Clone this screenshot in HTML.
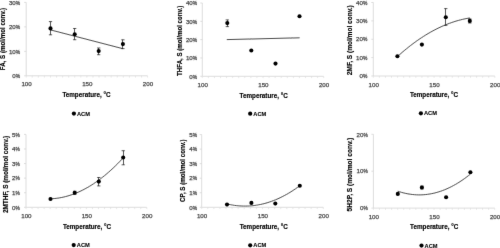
<!DOCTYPE html>
<html><head><meta charset="utf-8"><style>
html,body{margin:0;padding:0;background:#fff;width:500px;height:248px;overflow:hidden}
svg{display:block;will-change:transform}
text{font-family:"Liberation Sans",sans-serif}
.tl{font-size:6.2px;fill:#484848;stroke:#484848;stroke-width:0.25px}
.at{font-size:6.8px;font-weight:bold;fill:#000;stroke:#000;stroke-width:0.15px}
.lg{font-size:6.0px;font-weight:bold;fill:#000;stroke:#000;stroke-width:0.1px}
</style></head><body>
<svg width="500" height="248" viewBox="0 0 500 248">
<defs><filter id="bl" x="-5%" y="-5%" width="110%" height="110%"><feConvolveMatrix order="3" kernelMatrix="0 1 0 1 12 1 0 1 0" edgeMode="none" preserveAlpha="false"/></filter></defs>
<rect width="500" height="248" fill="#fff"/>
<g filter="url(#bl)">
<line x1="26.2" y1="2.4" x2="26.2" y2="75.8" stroke="#d4d4d4" stroke-width="0.8"/>
<line x1="26.2" y1="75.8" x2="147.6" y2="75.8" stroke="#d4d4d4" stroke-width="0.8"/>
<line x1="24.2" y1="75.80" x2="26.2" y2="75.80" stroke="#d4d4d4" stroke-width="0.8"/>
<text x="15.79" y="78.00" class="tl" text-anchor="end">0</text>
<text transform="translate(15.79,78.00) scale(0.8,1)" class="tl">%</text>
<line x1="24.2" y1="51.33" x2="26.2" y2="51.33" stroke="#d4d4d4" stroke-width="0.8"/>
<text x="15.79" y="53.53" class="tl" text-anchor="end">10</text>
<text transform="translate(15.79,53.53) scale(0.8,1)" class="tl">%</text>
<line x1="24.2" y1="26.87" x2="26.2" y2="26.87" stroke="#d4d4d4" stroke-width="0.8"/>
<text x="15.79" y="29.07" class="tl" text-anchor="end">20</text>
<text transform="translate(15.79,29.07) scale(0.8,1)" class="tl">%</text>
<line x1="24.2" y1="2.40" x2="26.2" y2="2.40" stroke="#d4d4d4" stroke-width="0.8"/>
<text x="15.79" y="4.60" class="tl" text-anchor="end">30</text>
<text transform="translate(15.79,4.60) scale(0.8,1)" class="tl">%</text>
<line x1="26.20" y1="75.8" x2="26.20" y2="77.6" stroke="#dcdcdc" stroke-width="0.7"/>
<line x1="32.27" y1="75.8" x2="32.27" y2="77.6" stroke="#dcdcdc" stroke-width="0.7"/>
<line x1="38.34" y1="75.8" x2="38.34" y2="77.6" stroke="#dcdcdc" stroke-width="0.7"/>
<line x1="44.41" y1="75.8" x2="44.41" y2="77.6" stroke="#dcdcdc" stroke-width="0.7"/>
<line x1="50.48" y1="75.8" x2="50.48" y2="77.6" stroke="#dcdcdc" stroke-width="0.7"/>
<line x1="56.55" y1="75.8" x2="56.55" y2="77.6" stroke="#dcdcdc" stroke-width="0.7"/>
<line x1="62.62" y1="75.8" x2="62.62" y2="77.6" stroke="#dcdcdc" stroke-width="0.7"/>
<line x1="68.69" y1="75.8" x2="68.69" y2="77.6" stroke="#dcdcdc" stroke-width="0.7"/>
<line x1="74.76" y1="75.8" x2="74.76" y2="77.6" stroke="#dcdcdc" stroke-width="0.7"/>
<line x1="80.83" y1="75.8" x2="80.83" y2="77.6" stroke="#dcdcdc" stroke-width="0.7"/>
<line x1="86.90" y1="75.8" x2="86.90" y2="77.6" stroke="#dcdcdc" stroke-width="0.7"/>
<line x1="92.97" y1="75.8" x2="92.97" y2="77.6" stroke="#dcdcdc" stroke-width="0.7"/>
<line x1="99.04" y1="75.8" x2="99.04" y2="77.6" stroke="#dcdcdc" stroke-width="0.7"/>
<line x1="105.11" y1="75.8" x2="105.11" y2="77.6" stroke="#dcdcdc" stroke-width="0.7"/>
<line x1="111.18" y1="75.8" x2="111.18" y2="77.6" stroke="#dcdcdc" stroke-width="0.7"/>
<line x1="117.25" y1="75.8" x2="117.25" y2="77.6" stroke="#dcdcdc" stroke-width="0.7"/>
<line x1="123.32" y1="75.8" x2="123.32" y2="77.6" stroke="#dcdcdc" stroke-width="0.7"/>
<line x1="129.39" y1="75.8" x2="129.39" y2="77.6" stroke="#dcdcdc" stroke-width="0.7"/>
<line x1="135.46" y1="75.8" x2="135.46" y2="77.6" stroke="#dcdcdc" stroke-width="0.7"/>
<line x1="141.53" y1="75.8" x2="141.53" y2="77.6" stroke="#dcdcdc" stroke-width="0.7"/>
<line x1="147.60" y1="75.8" x2="147.60" y2="77.6" stroke="#dcdcdc" stroke-width="0.7"/>
<text x="26.60" y="86.35" class="tl" text-anchor="middle">100</text>
<text x="87.30" y="86.35" class="tl" text-anchor="middle">150</text>
<text x="148.00" y="86.35" class="tl" text-anchor="middle">200</text>
<line x1="50.5" y1="29.9" x2="122.9" y2="48.7" stroke="#111" stroke-width="0.75"/>
<line x1="50.5" y1="21.6" x2="50.5" y2="34.8" stroke="#222" stroke-width="0.75"/>
<line x1="48.9" y1="21.6" x2="52.1" y2="21.6" stroke="#222" stroke-width="0.75"/>
<line x1="48.9" y1="34.8" x2="52.1" y2="34.8" stroke="#222" stroke-width="0.75"/>
<circle cx="50.5" cy="28.4" r="2.05" fill="#000"/>
<line x1="74.5" y1="28.5" x2="74.5" y2="39.7" stroke="#222" stroke-width="0.75"/>
<line x1="73.10000000000001" y1="28.5" x2="76.3" y2="28.5" stroke="#222" stroke-width="0.75"/>
<line x1="73.10000000000001" y1="39.7" x2="76.3" y2="39.7" stroke="#222" stroke-width="0.75"/>
<circle cx="74.7" cy="34.2" r="2.05" fill="#000"/>
<line x1="98.5" y1="48.0" x2="98.5" y2="54.7" stroke="#222" stroke-width="0.75"/>
<line x1="97.10000000000001" y1="48.0" x2="100.3" y2="48.0" stroke="#222" stroke-width="0.75"/>
<line x1="97.10000000000001" y1="54.7" x2="100.3" y2="54.7" stroke="#222" stroke-width="0.75"/>
<circle cx="98.7" cy="51.1" r="2.05" fill="#000"/>
<line x1="122.5" y1="39.8" x2="122.5" y2="48.6" stroke="#222" stroke-width="0.75"/>
<line x1="121.30000000000001" y1="39.8" x2="124.5" y2="39.8" stroke="#222" stroke-width="0.75"/>
<line x1="121.30000000000001" y1="48.6" x2="124.5" y2="48.6" stroke="#222" stroke-width="0.75"/>
<circle cx="122.9" cy="44.1" r="2.05" fill="#000"/>
<text transform="translate(4.90,39.05) rotate(-90)" class="at" text-anchor="middle" textLength="62.3" lengthAdjust="spacingAndGlyphs">FA, S (mol/mol conv.)</text>
<text x="86.5" y="97.20" class="at" text-anchor="middle" textLength="48.2" lengthAdjust="spacingAndGlyphs">Temperature, °C</text>
<circle cx="73.9" cy="113.6" r="2.1" fill="#000"/>
<text x="77.00" y="115.60" class="lg" textLength="13.0" lengthAdjust="spacingAndGlyphs">ACM</text>
<line x1="202.3" y1="3.0" x2="202.3" y2="76.3" stroke="#d4d4d4" stroke-width="0.8"/>
<line x1="202.3" y1="76.3" x2="323.7" y2="76.3" stroke="#d4d4d4" stroke-width="0.8"/>
<line x1="200.3" y1="76.30" x2="202.3" y2="76.30" stroke="#d4d4d4" stroke-width="0.8"/>
<text x="192.79" y="78.50" class="tl" text-anchor="end">0</text>
<text transform="translate(192.79,78.50) scale(0.8,1)" class="tl">%</text>
<line x1="200.3" y1="57.97" x2="202.3" y2="57.97" stroke="#d4d4d4" stroke-width="0.8"/>
<text x="192.79" y="60.17" class="tl" text-anchor="end">10</text>
<text transform="translate(192.79,60.17) scale(0.8,1)" class="tl">%</text>
<line x1="200.3" y1="39.65" x2="202.3" y2="39.65" stroke="#d4d4d4" stroke-width="0.8"/>
<text x="192.79" y="41.85" class="tl" text-anchor="end">20</text>
<text transform="translate(192.79,41.85) scale(0.8,1)" class="tl">%</text>
<line x1="200.3" y1="21.33" x2="202.3" y2="21.33" stroke="#d4d4d4" stroke-width="0.8"/>
<text x="192.79" y="23.53" class="tl" text-anchor="end">30</text>
<text transform="translate(192.79,23.53) scale(0.8,1)" class="tl">%</text>
<line x1="200.3" y1="3.00" x2="202.3" y2="3.00" stroke="#d4d4d4" stroke-width="0.8"/>
<text x="192.79" y="5.20" class="tl" text-anchor="end">40</text>
<text transform="translate(192.79,5.20) scale(0.8,1)" class="tl">%</text>
<line x1="202.30" y1="76.3" x2="202.30" y2="78.1" stroke="#dcdcdc" stroke-width="0.7"/>
<line x1="208.37" y1="76.3" x2="208.37" y2="78.1" stroke="#dcdcdc" stroke-width="0.7"/>
<line x1="214.44" y1="76.3" x2="214.44" y2="78.1" stroke="#dcdcdc" stroke-width="0.7"/>
<line x1="220.51" y1="76.3" x2="220.51" y2="78.1" stroke="#dcdcdc" stroke-width="0.7"/>
<line x1="226.58" y1="76.3" x2="226.58" y2="78.1" stroke="#dcdcdc" stroke-width="0.7"/>
<line x1="232.65" y1="76.3" x2="232.65" y2="78.1" stroke="#dcdcdc" stroke-width="0.7"/>
<line x1="238.72" y1="76.3" x2="238.72" y2="78.1" stroke="#dcdcdc" stroke-width="0.7"/>
<line x1="244.79" y1="76.3" x2="244.79" y2="78.1" stroke="#dcdcdc" stroke-width="0.7"/>
<line x1="250.86" y1="76.3" x2="250.86" y2="78.1" stroke="#dcdcdc" stroke-width="0.7"/>
<line x1="256.93" y1="76.3" x2="256.93" y2="78.1" stroke="#dcdcdc" stroke-width="0.7"/>
<line x1="263.00" y1="76.3" x2="263.00" y2="78.1" stroke="#dcdcdc" stroke-width="0.7"/>
<line x1="269.07" y1="76.3" x2="269.07" y2="78.1" stroke="#dcdcdc" stroke-width="0.7"/>
<line x1="275.14" y1="76.3" x2="275.14" y2="78.1" stroke="#dcdcdc" stroke-width="0.7"/>
<line x1="281.21" y1="76.3" x2="281.21" y2="78.1" stroke="#dcdcdc" stroke-width="0.7"/>
<line x1="287.28" y1="76.3" x2="287.28" y2="78.1" stroke="#dcdcdc" stroke-width="0.7"/>
<line x1="293.35" y1="76.3" x2="293.35" y2="78.1" stroke="#dcdcdc" stroke-width="0.7"/>
<line x1="299.42" y1="76.3" x2="299.42" y2="78.1" stroke="#dcdcdc" stroke-width="0.7"/>
<line x1="305.49" y1="76.3" x2="305.49" y2="78.1" stroke="#dcdcdc" stroke-width="0.7"/>
<line x1="311.56" y1="76.3" x2="311.56" y2="78.1" stroke="#dcdcdc" stroke-width="0.7"/>
<line x1="317.63" y1="76.3" x2="317.63" y2="78.1" stroke="#dcdcdc" stroke-width="0.7"/>
<line x1="323.70" y1="76.3" x2="323.70" y2="78.1" stroke="#dcdcdc" stroke-width="0.7"/>
<text x="202.70" y="86.85" class="tl" text-anchor="middle">100</text>
<text x="263.40" y="86.85" class="tl" text-anchor="middle">150</text>
<text x="324.10" y="86.85" class="tl" text-anchor="middle">200</text>
<line x1="226.8" y1="39.6" x2="299.6" y2="37.8" stroke="#111" stroke-width="0.75"/>
<line x1="227.5" y1="19.9" x2="227.5" y2="26.6" stroke="#222" stroke-width="0.75"/>
<line x1="225.70000000000002" y1="19.9" x2="228.9" y2="19.9" stroke="#222" stroke-width="0.75"/>
<line x1="225.70000000000002" y1="26.6" x2="228.9" y2="26.6" stroke="#222" stroke-width="0.75"/>
<circle cx="227.3" cy="23.1" r="2.05" fill="#000"/>
<circle cx="251.3" cy="50.5" r="2.05" fill="#000"/>
<circle cx="275.5" cy="63.6" r="2.05" fill="#000"/>
<circle cx="299.5" cy="16.3" r="2.05" fill="#000"/>
<text transform="translate(182.00,40.85) rotate(-90)" class="at" text-anchor="middle" textLength="70.1" lengthAdjust="spacingAndGlyphs">THFA, S (mol/mol conv.)</text>
<text x="263.7" y="97.50" class="at" text-anchor="middle" textLength="48.2" lengthAdjust="spacingAndGlyphs">Temperature, °C</text>
<circle cx="250.2" cy="113.7" r="2.1" fill="#000"/>
<text x="253.30" y="115.70" class="lg" textLength="13.0" lengthAdjust="spacingAndGlyphs">ACM</text>
<line x1="373.3" y1="2.5" x2="373.3" y2="76.0" stroke="#d4d4d4" stroke-width="0.8"/>
<line x1="373.3" y1="76.0" x2="494.8" y2="76.0" stroke="#d4d4d4" stroke-width="0.8"/>
<line x1="371.3" y1="76.00" x2="373.3" y2="76.00" stroke="#d4d4d4" stroke-width="0.8"/>
<text x="362.89" y="78.20" class="tl" text-anchor="end">0</text>
<text transform="translate(362.89,78.20) scale(0.8,1)" class="tl">%</text>
<line x1="371.3" y1="57.62" x2="373.3" y2="57.62" stroke="#d4d4d4" stroke-width="0.8"/>
<text x="362.89" y="59.83" class="tl" text-anchor="end">10</text>
<text transform="translate(362.89,59.83) scale(0.8,1)" class="tl">%</text>
<line x1="371.3" y1="39.25" x2="373.3" y2="39.25" stroke="#d4d4d4" stroke-width="0.8"/>
<text x="362.89" y="41.45" class="tl" text-anchor="end">20</text>
<text transform="translate(362.89,41.45) scale(0.8,1)" class="tl">%</text>
<line x1="371.3" y1="20.88" x2="373.3" y2="20.88" stroke="#d4d4d4" stroke-width="0.8"/>
<text x="362.89" y="23.07" class="tl" text-anchor="end">30</text>
<text transform="translate(362.89,23.07) scale(0.8,1)" class="tl">%</text>
<line x1="371.3" y1="2.50" x2="373.3" y2="2.50" stroke="#d4d4d4" stroke-width="0.8"/>
<text x="362.89" y="4.70" class="tl" text-anchor="end">40</text>
<text transform="translate(362.89,4.70) scale(0.8,1)" class="tl">%</text>
<line x1="373.30" y1="76.0" x2="373.30" y2="77.8" stroke="#dcdcdc" stroke-width="0.7"/>
<line x1="379.38" y1="76.0" x2="379.38" y2="77.8" stroke="#dcdcdc" stroke-width="0.7"/>
<line x1="385.45" y1="76.0" x2="385.45" y2="77.8" stroke="#dcdcdc" stroke-width="0.7"/>
<line x1="391.53" y1="76.0" x2="391.53" y2="77.8" stroke="#dcdcdc" stroke-width="0.7"/>
<line x1="397.60" y1="76.0" x2="397.60" y2="77.8" stroke="#dcdcdc" stroke-width="0.7"/>
<line x1="403.68" y1="76.0" x2="403.68" y2="77.8" stroke="#dcdcdc" stroke-width="0.7"/>
<line x1="409.75" y1="76.0" x2="409.75" y2="77.8" stroke="#dcdcdc" stroke-width="0.7"/>
<line x1="415.82" y1="76.0" x2="415.82" y2="77.8" stroke="#dcdcdc" stroke-width="0.7"/>
<line x1="421.90" y1="76.0" x2="421.90" y2="77.8" stroke="#dcdcdc" stroke-width="0.7"/>
<line x1="427.98" y1="76.0" x2="427.98" y2="77.8" stroke="#dcdcdc" stroke-width="0.7"/>
<line x1="434.05" y1="76.0" x2="434.05" y2="77.8" stroke="#dcdcdc" stroke-width="0.7"/>
<line x1="440.12" y1="76.0" x2="440.12" y2="77.8" stroke="#dcdcdc" stroke-width="0.7"/>
<line x1="446.20" y1="76.0" x2="446.20" y2="77.8" stroke="#dcdcdc" stroke-width="0.7"/>
<line x1="452.27" y1="76.0" x2="452.27" y2="77.8" stroke="#dcdcdc" stroke-width="0.7"/>
<line x1="458.35" y1="76.0" x2="458.35" y2="77.8" stroke="#dcdcdc" stroke-width="0.7"/>
<line x1="464.43" y1="76.0" x2="464.43" y2="77.8" stroke="#dcdcdc" stroke-width="0.7"/>
<line x1="470.50" y1="76.0" x2="470.50" y2="77.8" stroke="#dcdcdc" stroke-width="0.7"/>
<line x1="476.58" y1="76.0" x2="476.58" y2="77.8" stroke="#dcdcdc" stroke-width="0.7"/>
<line x1="482.65" y1="76.0" x2="482.65" y2="77.8" stroke="#dcdcdc" stroke-width="0.7"/>
<line x1="488.73" y1="76.0" x2="488.73" y2="77.8" stroke="#dcdcdc" stroke-width="0.7"/>
<line x1="494.80" y1="76.0" x2="494.80" y2="77.8" stroke="#dcdcdc" stroke-width="0.7"/>
<text x="373.70" y="86.55" class="tl" text-anchor="middle">100</text>
<text x="434.45" y="86.55" class="tl" text-anchor="middle">150</text>
<text x="495.20" y="86.55" class="tl" text-anchor="middle">200</text>
<path d="M397.40,56.60 L399.26,54.93 L401.11,53.30 L402.97,51.70 L404.83,50.14 L406.68,48.61 L408.54,47.12 L410.39,45.66 L412.25,44.24 L414.11,42.86 L415.96,41.51 L417.82,40.20 L419.68,38.92 L421.53,37.68 L423.39,36.48 L425.25,35.31 L427.10,34.17 L428.96,33.07 L430.82,32.01 L432.67,30.99 L434.53,30.00 L436.38,29.04 L438.24,28.12 L440.10,27.24 L441.95,26.39 L443.81,25.58 L445.67,24.80 L447.52,24.06 L449.38,23.35 L451.24,22.69 L453.09,22.05 L454.95,21.45 L456.81,20.89 L458.66,20.37 L460.52,19.88 L462.37,19.42 L464.23,19.00 L466.09,18.62 L467.94,18.27 L469.80,17.96" fill="none" stroke="#111" stroke-width="0.75"/>
<circle cx="397.4" cy="56.2" r="2.05" fill="#000"/>
<circle cx="421.9" cy="44.6" r="2.05" fill="#000"/>
<line x1="445.5" y1="8.6" x2="445.5" y2="25.4" stroke="#222" stroke-width="0.75"/>
<line x1="444.2" y1="8.6" x2="447.40000000000003" y2="8.6" stroke="#222" stroke-width="0.75"/>
<line x1="444.2" y1="25.4" x2="447.40000000000003" y2="25.4" stroke="#222" stroke-width="0.75"/>
<circle cx="445.8" cy="17.3" r="2.05" fill="#000"/>
<line x1="469.5" y1="18.9" x2="469.5" y2="23.0" stroke="#222" stroke-width="0.75"/>
<line x1="468.2" y1="18.9" x2="471.40000000000003" y2="18.9" stroke="#222" stroke-width="0.75"/>
<line x1="468.2" y1="23.0" x2="471.40000000000003" y2="23.0" stroke="#222" stroke-width="0.75"/>
<circle cx="469.8" cy="20.9" r="2.05" fill="#000"/>
<text transform="translate(351.60,40.20) rotate(-90)" class="at" text-anchor="middle" textLength="70.0" lengthAdjust="spacingAndGlyphs">2MF, S (mol/mol conv.)</text>
<text x="434.0" y="97.20" class="at" text-anchor="middle" textLength="48.2" lengthAdjust="spacingAndGlyphs">Temperature, °C</text>
<circle cx="420.9" cy="113.3" r="2.1" fill="#000"/>
<text x="424.00" y="115.30" class="lg" textLength="13.0" lengthAdjust="spacingAndGlyphs">ACM</text>
<line x1="26.0" y1="134.4" x2="26.0" y2="207.3" stroke="#d4d4d4" stroke-width="0.8"/>
<line x1="26.0" y1="207.3" x2="146.8" y2="207.3" stroke="#d4d4d4" stroke-width="0.8"/>
<line x1="24.0" y1="207.30" x2="26.0" y2="207.30" stroke="#d4d4d4" stroke-width="0.8"/>
<text x="15.49" y="209.50" class="tl" text-anchor="end">0</text>
<text transform="translate(15.49,209.50) scale(0.8,1)" class="tl">%</text>
<line x1="24.0" y1="192.72" x2="26.0" y2="192.72" stroke="#d4d4d4" stroke-width="0.8"/>
<text x="15.49" y="194.92" class="tl" text-anchor="end">1</text>
<text transform="translate(15.49,194.92) scale(0.8,1)" class="tl">%</text>
<line x1="24.0" y1="178.14" x2="26.0" y2="178.14" stroke="#d4d4d4" stroke-width="0.8"/>
<text x="15.49" y="180.34" class="tl" text-anchor="end">2</text>
<text transform="translate(15.49,180.34) scale(0.8,1)" class="tl">%</text>
<line x1="24.0" y1="163.56" x2="26.0" y2="163.56" stroke="#d4d4d4" stroke-width="0.8"/>
<text x="15.49" y="165.76" class="tl" text-anchor="end">3</text>
<text transform="translate(15.49,165.76) scale(0.8,1)" class="tl">%</text>
<line x1="24.0" y1="148.98" x2="26.0" y2="148.98" stroke="#d4d4d4" stroke-width="0.8"/>
<text x="15.49" y="151.18" class="tl" text-anchor="end">4</text>
<text transform="translate(15.49,151.18) scale(0.8,1)" class="tl">%</text>
<line x1="24.0" y1="134.40" x2="26.0" y2="134.40" stroke="#d4d4d4" stroke-width="0.8"/>
<text x="15.49" y="136.60" class="tl" text-anchor="end">5</text>
<text transform="translate(15.49,136.60) scale(0.8,1)" class="tl">%</text>
<line x1="26.00" y1="207.3" x2="26.00" y2="209.10000000000002" stroke="#dcdcdc" stroke-width="0.7"/>
<line x1="32.04" y1="207.3" x2="32.04" y2="209.10000000000002" stroke="#dcdcdc" stroke-width="0.7"/>
<line x1="38.08" y1="207.3" x2="38.08" y2="209.10000000000002" stroke="#dcdcdc" stroke-width="0.7"/>
<line x1="44.12" y1="207.3" x2="44.12" y2="209.10000000000002" stroke="#dcdcdc" stroke-width="0.7"/>
<line x1="50.16" y1="207.3" x2="50.16" y2="209.10000000000002" stroke="#dcdcdc" stroke-width="0.7"/>
<line x1="56.20" y1="207.3" x2="56.20" y2="209.10000000000002" stroke="#dcdcdc" stroke-width="0.7"/>
<line x1="62.24" y1="207.3" x2="62.24" y2="209.10000000000002" stroke="#dcdcdc" stroke-width="0.7"/>
<line x1="68.28" y1="207.3" x2="68.28" y2="209.10000000000002" stroke="#dcdcdc" stroke-width="0.7"/>
<line x1="74.32" y1="207.3" x2="74.32" y2="209.10000000000002" stroke="#dcdcdc" stroke-width="0.7"/>
<line x1="80.36" y1="207.3" x2="80.36" y2="209.10000000000002" stroke="#dcdcdc" stroke-width="0.7"/>
<line x1="86.40" y1="207.3" x2="86.40" y2="209.10000000000002" stroke="#dcdcdc" stroke-width="0.7"/>
<line x1="92.44" y1="207.3" x2="92.44" y2="209.10000000000002" stroke="#dcdcdc" stroke-width="0.7"/>
<line x1="98.48" y1="207.3" x2="98.48" y2="209.10000000000002" stroke="#dcdcdc" stroke-width="0.7"/>
<line x1="104.52" y1="207.3" x2="104.52" y2="209.10000000000002" stroke="#dcdcdc" stroke-width="0.7"/>
<line x1="110.56" y1="207.3" x2="110.56" y2="209.10000000000002" stroke="#dcdcdc" stroke-width="0.7"/>
<line x1="116.60" y1="207.3" x2="116.60" y2="209.10000000000002" stroke="#dcdcdc" stroke-width="0.7"/>
<line x1="122.64" y1="207.3" x2="122.64" y2="209.10000000000002" stroke="#dcdcdc" stroke-width="0.7"/>
<line x1="128.68" y1="207.3" x2="128.68" y2="209.10000000000002" stroke="#dcdcdc" stroke-width="0.7"/>
<line x1="134.72" y1="207.3" x2="134.72" y2="209.10000000000002" stroke="#dcdcdc" stroke-width="0.7"/>
<line x1="140.76" y1="207.3" x2="140.76" y2="209.10000000000002" stroke="#dcdcdc" stroke-width="0.7"/>
<line x1="146.80" y1="207.3" x2="146.80" y2="209.10000000000002" stroke="#dcdcdc" stroke-width="0.7"/>
<text x="26.40" y="217.85" class="tl" text-anchor="middle">100</text>
<text x="86.80" y="217.85" class="tl" text-anchor="middle">150</text>
<text x="147.20" y="217.85" class="tl" text-anchor="middle">200</text>
<path d="M50.50,198.80 L52.36,198.71 L54.23,198.56 L56.09,198.36 L57.96,198.11 L59.82,197.81 L61.68,197.47 L63.55,197.07 L65.41,196.62 L67.28,196.12 L69.14,195.57 L71.01,194.97 L72.87,194.32 L74.73,193.62 L76.60,192.87 L78.46,192.08 L80.33,191.23 L82.19,190.33 L84.05,189.38 L85.92,188.38 L87.78,187.33 L89.65,186.23 L91.51,185.08 L93.37,183.88 L95.24,182.63 L97.10,181.32 L98.97,179.97 L100.83,178.57 L102.69,177.12 L104.56,175.62 L106.42,174.07 L108.29,172.47 L110.15,170.82 L112.02,169.11 L113.88,167.36 L115.74,165.56 L117.61,163.71 L119.47,161.81 L121.34,159.85 L123.20,157.85" fill="none" stroke="#111" stroke-width="0.75"/>
<circle cx="50.5" cy="199.0" r="2.05" fill="#000"/>
<line x1="74.5" y1="191.2" x2="74.5" y2="194.4" stroke="#222" stroke-width="0.75"/>
<line x1="73.10000000000001" y1="191.2" x2="76.3" y2="191.2" stroke="#222" stroke-width="0.75"/>
<line x1="73.10000000000001" y1="194.4" x2="76.3" y2="194.4" stroke="#222" stroke-width="0.75"/>
<circle cx="74.7" cy="192.8" r="2.05" fill="#000"/>
<line x1="98.5" y1="177.5" x2="98.5" y2="185.9" stroke="#222" stroke-width="0.75"/>
<line x1="97.2" y1="177.5" x2="100.39999999999999" y2="177.5" stroke="#222" stroke-width="0.75"/>
<line x1="97.2" y1="185.9" x2="100.39999999999999" y2="185.9" stroke="#222" stroke-width="0.75"/>
<circle cx="98.8" cy="181.6" r="2.05" fill="#000"/>
<line x1="123.5" y1="150.7" x2="123.5" y2="164.8" stroke="#222" stroke-width="0.75"/>
<line x1="121.60000000000001" y1="150.7" x2="124.8" y2="150.7" stroke="#222" stroke-width="0.75"/>
<line x1="121.60000000000001" y1="164.8" x2="124.8" y2="164.8" stroke="#222" stroke-width="0.75"/>
<circle cx="123.2" cy="157.5" r="2.05" fill="#000"/>
<text transform="translate(7.90,174.45) rotate(-90)" class="at" text-anchor="middle" textLength="77.3" lengthAdjust="spacingAndGlyphs">2MTHF, S (mol/mol conv.)</text>
<text x="87.0" y="228.80" class="at" text-anchor="middle" textLength="48.2" lengthAdjust="spacingAndGlyphs">Temperature, °C</text>
<circle cx="73.7" cy="245.1" r="2.1" fill="#000"/>
<text x="76.80" y="247.10" class="lg" textLength="13.0" lengthAdjust="spacingAndGlyphs">ACM</text>
<line x1="201.7" y1="134.6" x2="201.7" y2="207.3" stroke="#d4d4d4" stroke-width="0.8"/>
<line x1="201.7" y1="207.3" x2="323.3" y2="207.3" stroke="#d4d4d4" stroke-width="0.8"/>
<line x1="199.7" y1="207.30" x2="201.7" y2="207.30" stroke="#d4d4d4" stroke-width="0.8"/>
<text x="192.79" y="209.50" class="tl" text-anchor="end">0</text>
<text transform="translate(192.79,209.50) scale(0.8,1)" class="tl">%</text>
<line x1="199.7" y1="192.76" x2="201.7" y2="192.76" stroke="#d4d4d4" stroke-width="0.8"/>
<text x="192.79" y="194.96" class="tl" text-anchor="end">1</text>
<text transform="translate(192.79,194.96) scale(0.8,1)" class="tl">%</text>
<line x1="199.7" y1="178.22" x2="201.7" y2="178.22" stroke="#d4d4d4" stroke-width="0.8"/>
<text x="192.79" y="180.42" class="tl" text-anchor="end">2</text>
<text transform="translate(192.79,180.42) scale(0.8,1)" class="tl">%</text>
<line x1="199.7" y1="163.68" x2="201.7" y2="163.68" stroke="#d4d4d4" stroke-width="0.8"/>
<text x="192.79" y="165.88" class="tl" text-anchor="end">3</text>
<text transform="translate(192.79,165.88) scale(0.8,1)" class="tl">%</text>
<line x1="199.7" y1="149.14" x2="201.7" y2="149.14" stroke="#d4d4d4" stroke-width="0.8"/>
<text x="192.79" y="151.34" class="tl" text-anchor="end">4</text>
<text transform="translate(192.79,151.34) scale(0.8,1)" class="tl">%</text>
<line x1="199.7" y1="134.60" x2="201.7" y2="134.60" stroke="#d4d4d4" stroke-width="0.8"/>
<text x="192.79" y="136.80" class="tl" text-anchor="end">5</text>
<text transform="translate(192.79,136.80) scale(0.8,1)" class="tl">%</text>
<line x1="201.70" y1="207.3" x2="201.70" y2="209.10000000000002" stroke="#dcdcdc" stroke-width="0.7"/>
<line x1="207.78" y1="207.3" x2="207.78" y2="209.10000000000002" stroke="#dcdcdc" stroke-width="0.7"/>
<line x1="213.86" y1="207.3" x2="213.86" y2="209.10000000000002" stroke="#dcdcdc" stroke-width="0.7"/>
<line x1="219.94" y1="207.3" x2="219.94" y2="209.10000000000002" stroke="#dcdcdc" stroke-width="0.7"/>
<line x1="226.02" y1="207.3" x2="226.02" y2="209.10000000000002" stroke="#dcdcdc" stroke-width="0.7"/>
<line x1="232.10" y1="207.3" x2="232.10" y2="209.10000000000002" stroke="#dcdcdc" stroke-width="0.7"/>
<line x1="238.18" y1="207.3" x2="238.18" y2="209.10000000000002" stroke="#dcdcdc" stroke-width="0.7"/>
<line x1="244.26" y1="207.3" x2="244.26" y2="209.10000000000002" stroke="#dcdcdc" stroke-width="0.7"/>
<line x1="250.34" y1="207.3" x2="250.34" y2="209.10000000000002" stroke="#dcdcdc" stroke-width="0.7"/>
<line x1="256.42" y1="207.3" x2="256.42" y2="209.10000000000002" stroke="#dcdcdc" stroke-width="0.7"/>
<line x1="262.50" y1="207.3" x2="262.50" y2="209.10000000000002" stroke="#dcdcdc" stroke-width="0.7"/>
<line x1="268.58" y1="207.3" x2="268.58" y2="209.10000000000002" stroke="#dcdcdc" stroke-width="0.7"/>
<line x1="274.66" y1="207.3" x2="274.66" y2="209.10000000000002" stroke="#dcdcdc" stroke-width="0.7"/>
<line x1="280.74" y1="207.3" x2="280.74" y2="209.10000000000002" stroke="#dcdcdc" stroke-width="0.7"/>
<line x1="286.82" y1="207.3" x2="286.82" y2="209.10000000000002" stroke="#dcdcdc" stroke-width="0.7"/>
<line x1="292.90" y1="207.3" x2="292.90" y2="209.10000000000002" stroke="#dcdcdc" stroke-width="0.7"/>
<line x1="298.98" y1="207.3" x2="298.98" y2="209.10000000000002" stroke="#dcdcdc" stroke-width="0.7"/>
<line x1="305.06" y1="207.3" x2="305.06" y2="209.10000000000002" stroke="#dcdcdc" stroke-width="0.7"/>
<line x1="311.14" y1="207.3" x2="311.14" y2="209.10000000000002" stroke="#dcdcdc" stroke-width="0.7"/>
<line x1="317.22" y1="207.3" x2="317.22" y2="209.10000000000002" stroke="#dcdcdc" stroke-width="0.7"/>
<line x1="323.30" y1="207.3" x2="323.30" y2="209.10000000000002" stroke="#dcdcdc" stroke-width="0.7"/>
<text x="202.10" y="217.85" class="tl" text-anchor="middle">100</text>
<text x="262.90" y="217.85" class="tl" text-anchor="middle">150</text>
<text x="323.70" y="217.85" class="tl" text-anchor="middle">200</text>
<path d="M227.00,203.95 L228.86,204.38 L230.72,204.76 L232.58,205.09 L234.44,205.38 L236.29,205.62 L238.15,205.81 L240.01,205.96 L241.87,206.06 L243.73,206.11 L245.59,206.12 L247.45,206.08 L249.31,205.99 L251.17,205.86 L253.03,205.68 L254.88,205.45 L256.74,205.17 L258.60,204.85 L260.46,204.49 L262.32,204.07 L264.18,203.61 L266.04,203.10 L267.90,202.55 L269.76,201.95 L271.62,201.30 L273.47,200.61 L275.33,199.87 L277.19,199.08 L279.05,198.24 L280.91,197.36 L282.77,196.43 L284.63,195.46 L286.49,194.44 L288.35,193.37 L290.21,192.25 L292.06,191.09 L293.92,189.88 L295.78,188.63 L297.64,187.33 L299.50,185.98" fill="none" stroke="#111" stroke-width="0.75"/>
<circle cx="227.0" cy="204.6" r="2.05" fill="#000"/>
<circle cx="251.4" cy="202.9" r="2.05" fill="#000"/>
<circle cx="275.3" cy="203.6" r="2.05" fill="#000"/>
<circle cx="299.8" cy="185.8" r="2.05" fill="#000"/>
<text transform="translate(184.80,170.65) rotate(-90)" class="at" text-anchor="middle" textLength="62.5" lengthAdjust="spacingAndGlyphs">CP, S (mol/mol conv.)</text>
<text x="263.8" y="229.20" class="at" text-anchor="middle" textLength="48.2" lengthAdjust="spacingAndGlyphs">Temperature, °C</text>
<circle cx="250.2" cy="245.3" r="2.1" fill="#000"/>
<text x="253.30" y="247.30" class="lg" textLength="13.0" lengthAdjust="spacingAndGlyphs">ACM</text>
<line x1="373.4" y1="134.3" x2="373.4" y2="208.1" stroke="#d4d4d4" stroke-width="0.8"/>
<line x1="373.4" y1="208.1" x2="494.7" y2="208.1" stroke="#d4d4d4" stroke-width="0.8"/>
<line x1="371.4" y1="208.10" x2="373.4" y2="208.10" stroke="#d4d4d4" stroke-width="0.8"/>
<text x="363.39" y="210.30" class="tl" text-anchor="end">0</text>
<text transform="translate(363.39,210.30) scale(0.8,1)" class="tl">%</text>
<line x1="371.4" y1="171.20" x2="373.4" y2="171.20" stroke="#d4d4d4" stroke-width="0.8"/>
<text x="363.39" y="173.40" class="tl" text-anchor="end">10</text>
<text transform="translate(363.39,173.40) scale(0.8,1)" class="tl">%</text>
<line x1="371.4" y1="134.30" x2="373.4" y2="134.30" stroke="#d4d4d4" stroke-width="0.8"/>
<text x="363.39" y="136.50" class="tl" text-anchor="end">20</text>
<text transform="translate(363.39,136.50) scale(0.8,1)" class="tl">%</text>
<line x1="373.40" y1="208.1" x2="373.40" y2="209.9" stroke="#dcdcdc" stroke-width="0.7"/>
<line x1="379.46" y1="208.1" x2="379.46" y2="209.9" stroke="#dcdcdc" stroke-width="0.7"/>
<line x1="385.53" y1="208.1" x2="385.53" y2="209.9" stroke="#dcdcdc" stroke-width="0.7"/>
<line x1="391.59" y1="208.1" x2="391.59" y2="209.9" stroke="#dcdcdc" stroke-width="0.7"/>
<line x1="397.66" y1="208.1" x2="397.66" y2="209.9" stroke="#dcdcdc" stroke-width="0.7"/>
<line x1="403.72" y1="208.1" x2="403.72" y2="209.9" stroke="#dcdcdc" stroke-width="0.7"/>
<line x1="409.79" y1="208.1" x2="409.79" y2="209.9" stroke="#dcdcdc" stroke-width="0.7"/>
<line x1="415.85" y1="208.1" x2="415.85" y2="209.9" stroke="#dcdcdc" stroke-width="0.7"/>
<line x1="421.92" y1="208.1" x2="421.92" y2="209.9" stroke="#dcdcdc" stroke-width="0.7"/>
<line x1="427.98" y1="208.1" x2="427.98" y2="209.9" stroke="#dcdcdc" stroke-width="0.7"/>
<line x1="434.05" y1="208.1" x2="434.05" y2="209.9" stroke="#dcdcdc" stroke-width="0.7"/>
<line x1="440.12" y1="208.1" x2="440.12" y2="209.9" stroke="#dcdcdc" stroke-width="0.7"/>
<line x1="446.18" y1="208.1" x2="446.18" y2="209.9" stroke="#dcdcdc" stroke-width="0.7"/>
<line x1="452.25" y1="208.1" x2="452.25" y2="209.9" stroke="#dcdcdc" stroke-width="0.7"/>
<line x1="458.31" y1="208.1" x2="458.31" y2="209.9" stroke="#dcdcdc" stroke-width="0.7"/>
<line x1="464.38" y1="208.1" x2="464.38" y2="209.9" stroke="#dcdcdc" stroke-width="0.7"/>
<line x1="470.44" y1="208.1" x2="470.44" y2="209.9" stroke="#dcdcdc" stroke-width="0.7"/>
<line x1="476.50" y1="208.1" x2="476.50" y2="209.9" stroke="#dcdcdc" stroke-width="0.7"/>
<line x1="482.57" y1="208.1" x2="482.57" y2="209.9" stroke="#dcdcdc" stroke-width="0.7"/>
<line x1="488.63" y1="208.1" x2="488.63" y2="209.9" stroke="#dcdcdc" stroke-width="0.7"/>
<line x1="494.70" y1="208.1" x2="494.70" y2="209.9" stroke="#dcdcdc" stroke-width="0.7"/>
<text x="373.80" y="218.65" class="tl" text-anchor="middle">100</text>
<text x="434.45" y="218.65" class="tl" text-anchor="middle">150</text>
<text x="495.10" y="218.65" class="tl" text-anchor="middle">200</text>
<path d="M397.80,191.21 L399.66,191.82 L401.52,192.37 L403.38,192.87 L405.24,193.31 L407.09,193.70 L408.95,194.03 L410.81,194.31 L412.67,194.53 L414.53,194.70 L416.39,194.81 L418.25,194.87 L420.11,194.87 L421.97,194.82 L423.83,194.71 L425.68,194.55 L427.54,194.33 L429.40,194.06 L431.26,193.73 L433.12,193.35 L434.98,192.91 L436.84,192.42 L438.70,191.87 L440.56,191.27 L442.42,190.61 L444.27,189.90 L446.13,189.13 L447.99,188.31 L449.85,187.43 L451.71,186.50 L453.57,185.51 L455.43,184.47 L457.29,183.37 L459.15,182.22 L461.01,181.01 L462.86,179.75 L464.72,178.43 L466.58,177.06 L468.44,175.63 L470.30,174.15" fill="none" stroke="#111" stroke-width="0.75"/>
<circle cx="397.8" cy="193.9" r="2.05" fill="#000"/>
<line x1="421.5" y1="186.0" x2="421.5" y2="189.0" stroke="#222" stroke-width="0.75"/>
<line x1="420.29999999999995" y1="186.0" x2="423.5" y2="186.0" stroke="#222" stroke-width="0.75"/>
<line x1="420.29999999999995" y1="189.0" x2="423.5" y2="189.0" stroke="#222" stroke-width="0.75"/>
<circle cx="421.9" cy="187.5" r="2.05" fill="#000"/>
<circle cx="446.1" cy="197.3" r="2.05" fill="#000"/>
<circle cx="470.4" cy="172.3" r="2.05" fill="#000"/>
<text transform="translate(352.40,174.65) rotate(-90)" class="at" text-anchor="middle" textLength="73.5" lengthAdjust="spacingAndGlyphs">5H2P, S (mol/mol conv.)</text>
<text x="434.2" y="229.00" class="at" text-anchor="middle" textLength="48.2" lengthAdjust="spacingAndGlyphs">Temperature, °C</text>
<circle cx="421.5" cy="245.6" r="2.1" fill="#000"/>
<text x="424.60" y="247.60" class="lg" textLength="13.0" lengthAdjust="spacingAndGlyphs">ACM</text>
</g>
</svg>
</body></html>
